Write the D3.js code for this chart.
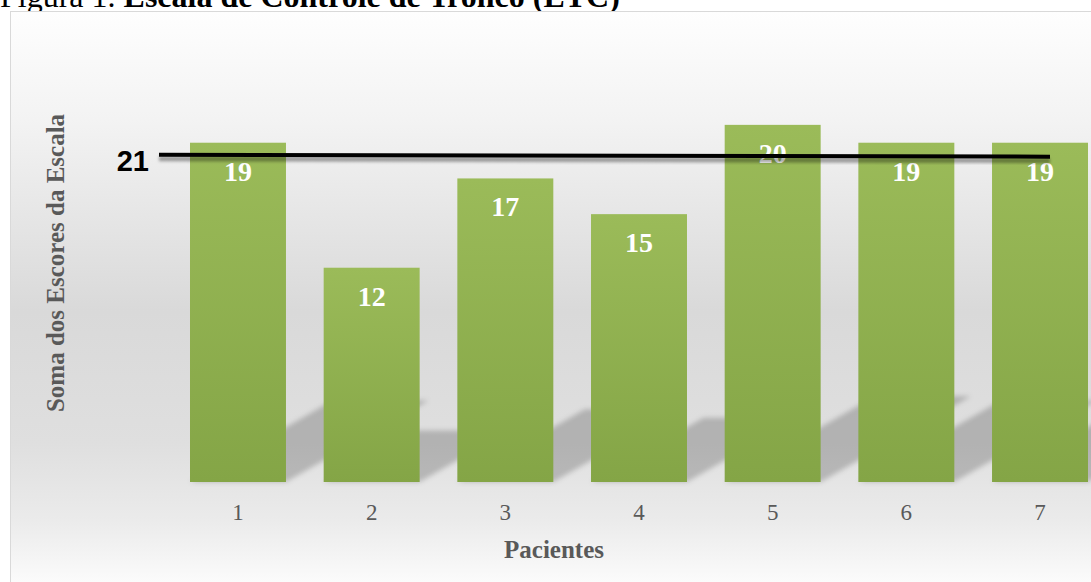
<!DOCTYPE html>
<html>
<head>
<meta charset="utf-8">
<script src="https://cdn.jsdelivr.net/npm/d3@7"></script>
<style>
  body { margin: 0; background: #fff; }
  svg { display: block; }
</style>
</head>
<body>
<div id="chart"></div>
<script>
// Data
var patients = ["1", "2", "3", "4", "5", "6", "7"];
var scores = [19, 12, 17, 15, 20, 19, 19];
var maxScoreLabel = "21";
// the hand drawn "21" line sits at these levels of the value axis (left end, right end)
var refLineLevels = [18.33, 18.22];
var yMax = 21;

var svgWidth = 1091;
var svgHeight = 582;
var base = 482;

var svg = d3.select("#chart")
  .append("svg")
  .attr("width", svgWidth)
  .attr("height", svgHeight);

var defs = svg.append("defs");

// background gradient of the chart area
var bg = defs.append("linearGradient")
  .attr("id", "bgGrad")
  .attr("x1", 0).attr("y1", 0).attr("x2", 0).attr("y2", 1);
[[0, "#fefefe"], [0.18, "#f3f3f3"], [0.5, "#d9d9d9"], [0.72, "#dfdfdf"],
 [0.85, "#ebebeb"], [0.95, "#fbfbfb"], [1, "#ffffff"]].forEach(function(s) {
  bg.append("stop").attr("offset", s[0]).attr("stop-color", s[1]);
});

// bar gradient
var barGrad = defs.append("linearGradient")
  .attr("id", "barGrad")
  .attr("x1", 0).attr("y1", 0).attr("x2", 0).attr("y2", 1);
barGrad.append("stop").attr("offset", 0).attr("stop-color", "#9bbb59");
barGrad.append("stop").attr("offset", 1).attr("stop-color", "#84a546");

defs.append("filter").attr("id", "blurShadow")
  .attr("x", "-20%").attr("y", "-20%").attr("width", "140%").attr("height", "140%")
  .append("feGaussianBlur").attr("stdDeviation", 2.5);

defs.append("filter").attr("id", "blurLine")
  .attr("x", "-5%").attr("y", "-200%").attr("width", "110%").attr("height", "500%")
  .append("feGaussianBlur").attr("stdDeviation", 1.5);

// Title (partly cut off at the top)
var title = svg.append("text")
  .attr("x", 0)
  .attr("y", 7)
  .style("font-family", "'Liberation Serif', 'Times New Roman', serif")
  .style("font-size", "32px")
  .attr("fill", "#000");
title.append("tspan").text("Figura 1. ");
title.append("tspan").style("font-weight", "bold").text("Escala de Controle de Tronco (ETC)");

// Chart area
svg.append("rect")
  .attr("x", 10.5)
  .attr("y", 11.5)
  .attr("width", 1100)
  .attr("height", 600)
  .attr("fill", "url(#bgGrad)")
  .attr("stroke", "#d9d9d9")
  .attr("stroke-width", 1);

// Scales
var xScale = d3.scaleBand()
  .domain(patients)
  .range([152.3, 1125.7])
  .paddingInner(0.282)
  .paddingOuter(0.282);

var yScale = d3.scaleLinear()
  .domain([0, yMax])
  .range([base, 107]);

var data = patients.map(function(p, i) {
  return { patient: p, score: scores[i] };
});

// perspective shadows behind the bars
var skewX = 0.42, squashY = 0.24;
svg.append("g")
  .attr("filter", "url(#blurShadow)")
  .selectAll("polygon")
  .data(data)
  .enter()
  .append("polygon")
  .attr("points", function(d) {
    var x0 = xScale(d.patient);
    var x1 = x0 + xScale.bandwidth();
    var h = base - yScale(d.score);
    return [[x0, base], [x1, base],
            [x1 + h * skewX, base - h * squashY],
            [x0 + h * skewX, base - h * squashY]].join(" ");
  })
  .attr("fill", "#000")
  .attr("opacity", 0.2);

// Bars
svg.append("g")
  .selectAll("rect")
  .data(data)
  .enter()
  .append("rect")
  .attr("x", d => xScale(d.patient))
  .attr("y", d => yScale(d.score))
  .attr("width", xScale.bandwidth())
  .attr("height", d => base - yScale(d.score))
  .attr("fill", "url(#barGrad)");

// Value labels
svg.append("g")
  .selectAll("text")
  .data(data)
  .enter()
  .append("text")
  .attr("x", d => xScale(d.patient) + xScale.bandwidth() / 2)
  .attr("y", d => yScale(d.score) + 38)
  .attr("text-anchor", "middle")
  .style("font-family", "'Liberation Serif', 'Times New Roman', serif")
  .style("font-weight", "bold")
  .style("font-size", "28px")
  .attr("fill", "#ffffff")
  .text(d => d.score);

// Reference line "21"
var lineStart = xScale(patients[0]) - 31;
var lineEnd = xScale(patients[patients.length - 1]) + xScale.bandwidth() / 2 + 10;
var refPoints = [
  { x: lineStart, v: refLineLevels[0] },
  { x: lineEnd, v: refLineLevels[1] }
];
var refLine = d3.line()
  .x(d => d.x)
  .y(d => yScale(d.v));

svg.append("path")
  .attr("d", refLine(refPoints))
  .attr("transform", "translate(0, 4)")
  .attr("stroke", "#000")
  .attr("stroke-opacity", 0.35)
  .attr("stroke-width", 5)
  .attr("fill", "none")
  .attr("filter", "url(#blurLine)");

svg.append("path")
  .attr("d", refLine(refPoints))
  .attr("stroke", "#000")
  .attr("stroke-width", 4)
  .attr("fill", "none");

svg.append("text")
  .attr("x", lineStart - 10)
  .attr("y", yScale(refLineLevels[0]) + 16)
  .attr("text-anchor", "end")
  .style("font-family", "'Liberation Sans', Arial, sans-serif")
  .style("font-weight", "bold")
  .style("font-size", "29px")
  .attr("fill", "#000")
  .text(maxScoreLabel);

// X axis (labels only)
var bottomAxis = d3.axisBottom(xScale).tickSize(0);
var xAxis = svg.append("g")
  .attr("transform", "translate(0, 520)")
  .call(bottomAxis);
xAxis.select(".domain").remove();
xAxis.selectAll("text")
  .attr("y", 0)
  .attr("dy", null)
  .style("font-family", "'Liberation Serif', 'Times New Roman', serif")
  .style("font-size", "23px")
  .attr("fill", "#595959");

// Axis titles
svg.append("text")
  .attr("x", 554)
  .attr("y", 558)
  .attr("text-anchor", "middle")
  .style("font-family", "'Liberation Serif', 'Times New Roman', serif")
  .style("font-weight", "bold")
  .style("font-size", "25px")
  .attr("fill", "#595959")
  .text("Pacientes");

svg.append("text")
  .attr("transform", "translate(64, 263) rotate(-90)")
  .attr("text-anchor", "middle")
  .style("font-family", "'Liberation Serif', 'Times New Roman', serif")
  .style("font-weight", "bold")
  .style("font-size", "25px")
  .attr("fill", "#595959")
  .text("Soma dos Escores da Escala");
</script>
</body>
</html>
